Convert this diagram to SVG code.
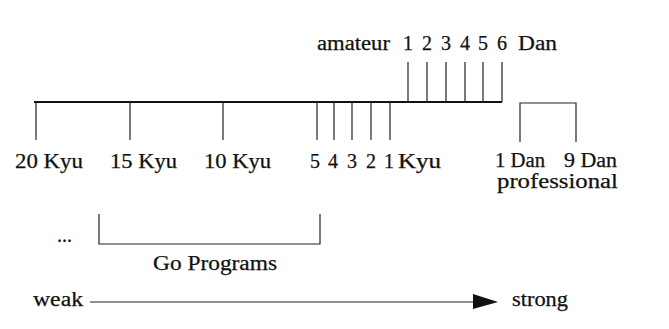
<svg xmlns="http://www.w3.org/2000/svg" width="669" height="329" viewBox="0 0 669 329">
<defs>
<style>
text{font-family:'Liberation Serif', 'DejaVu Serif', serif;font-size:20px;fill:#111;stroke:#111;stroke-width:0.25}
.c{text-anchor:middle}
.ln{stroke:#222;stroke-width:1.2;fill:none}
.main{stroke:#111;stroke-width:2.2;fill:none}
</style>
</defs>
<rect width="669" height="329" fill="#fff"/>
<g id="connectors">
<path class="main" d="M34 102H502"/>
<path class="ln" d="M408 102V62M427 102V62M446 102V62M465 102V62M483 102V62M502 102V62"/>
<path class="ln" d="M36 102V140M130 102V140M223 102V140M317 102V140M334 102V140M352 102V140M371 102V140M390 102V140"/>
<path class="ln" d="M520 142V103H576V142"/>
<path class="ln" d="M99 214V244H320V214"/>
<path class="ln" d="M90 302H476"/>
<polygon points="473,294 498,302 473,309" fill="#111"/>
</g>
<g id="amateur">
<text x="317" y="50" textLength="73" lengthAdjust="spacingAndGlyphs">amateur</text>
<text class="c" x="408" y="50">1</text>
<text class="c" x="427" y="50">2</text>
<text class="c" x="446" y="50">3</text>
<text class="c" x="465" y="50">4</text>
<text class="c" x="483" y="50">5</text>
<text class="c" x="502" y="50">6</text>
<text x="518" y="50" textLength="39" lengthAdjust="spacingAndGlyphs">Dan</text>
</g>
<g id="kyu">
<text x="15" y="168" textLength="68" lengthAdjust="spacingAndGlyphs">20 Kyu</text>
<text x="110" y="168" textLength="67" lengthAdjust="spacingAndGlyphs">15 Kyu</text>
<text x="204" y="168" textLength="67" lengthAdjust="spacingAndGlyphs">10 Kyu</text>
<text class="c" x="315" y="168">5</text>
<text class="c" x="333" y="168">4</text>
<text class="c" x="352" y="168">3</text>
<text class="c" x="371" y="168">2</text>
<text class="c" x="389" y="168">1</text>
<text x="398" y="168" textLength="43" lengthAdjust="spacingAndGlyphs">Kyu</text>
</g>
<g id="professional">
<text x="495" y="167" textLength="50" lengthAdjust="spacingAndGlyphs">1 Dan</text>
<text x="564" y="167" textLength="53" lengthAdjust="spacingAndGlyphs">9 Dan</text>
<text x="497" y="188" textLength="121" lengthAdjust="spacingAndGlyphs">professional</text>
</g>
<g id="programs">
<text x="57" y="242">...</text>
<text x="153" y="270" textLength="124" lengthAdjust="spacingAndGlyphs">Go Programs</text>
</g>
<g id="scale">
<text x="33" y="306" textLength="50" lengthAdjust="spacingAndGlyphs">weak</text>
<text x="512" y="306" textLength="56" lengthAdjust="spacingAndGlyphs">strong</text>
</g>
</svg>
